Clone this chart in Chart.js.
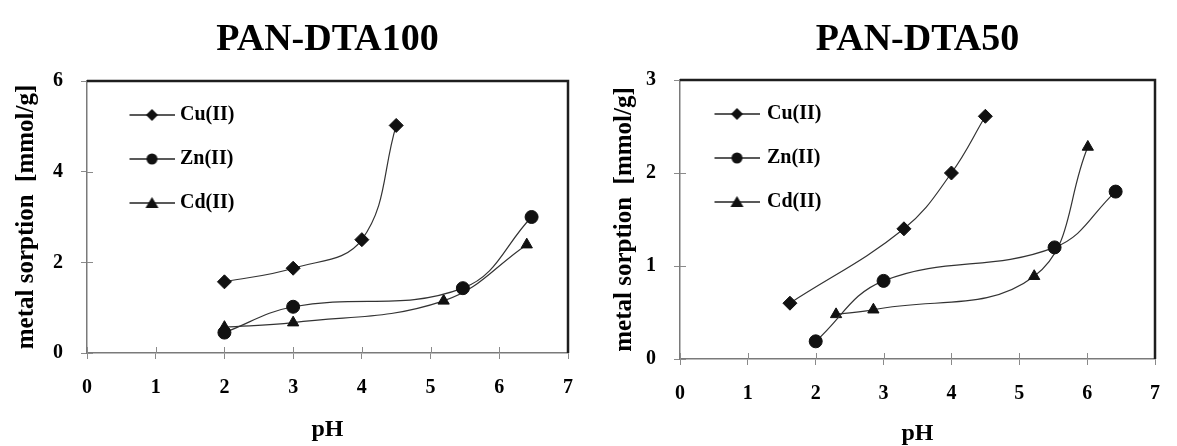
<!DOCTYPE html>
<html>
<head>
<meta charset="utf-8">
<script src="https://cdn.jsdelivr.net/npm/chart.js@4.4.1/dist/chart.umd.min.js"></script>
<style>
  body { margin: 0; background: #fff; }
  #wrap { position: relative; width: 1177px; height: 446px; }
  #left { position: absolute; left: 0; top: 0; }
  #right { position: absolute; left: 590px; top: 0; }
</style>
</head>
<body>
<div id="wrap">
  <canvas id="left" width="590" height="446"></canvas>
  <canvas id="right" width="587" height="446"></canvas>
</div>
<script>
// PAN-DTA100  (pH / metal sorption mmol/g)
const ph100Cu = [2, 3, 4, 4.5];
const sorp100Cu = [1.57, 1.87, 2.5, 5.02];
const ph100Zn = [2, 3, 5.47, 6.47];
const sorp100Zn = [0.45, 1.02, 1.43, 3.0];
const ph100Cd = [2, 3, 5.19, 6.4];
const sorp100Cd = [0.57, 0.67, 1.15, 2.39];

// PAN-DTA50
const ph50Cu = [1.62, 3.3, 4.0, 4.5];
const sorp50Cu = [0.6, 1.4, 2.0, 2.61];
const ph50Zn = [2.0, 3.0, 5.52, 6.42];
const sorp50Zn = [0.19, 0.84, 1.2, 1.8];
const ph50Cd = [2.3, 2.85, 5.22, 6.01];
const sorp50Cd = [0.48, 0.53, 0.89, 2.28];

const metals = ['Cu(II)', 'Zn(II)', 'Cd(II)'];
const markers = ['rectRot', 'circle', 'triangle'];
const xRange = [0, 7];
const yRange100 = [0, 6], yStep100 = 2;
const yRange50 = [0, 3], yStep50 = 1;

Chart.defaults.font.family = "'Liberation Serif', 'Times New Roman', serif";
Chart.defaults.color = '#000';

const pts = (xs, ys) => xs.map((x, i) => ({x: x, y: ys[i]}));

// little line+marker picture for the legend, like the excel one
function legendIcon(style, w, from, to) {
  const c = document.createElement('canvas');
  c.width = w; c.height = 18;
  const g = c.getContext('2d');
  g.strokeStyle = '#222'; g.lineWidth = 1.3;
  g.beginPath(); g.moveTo(from, 9); g.lineTo(to, 9); g.stroke();
  const m = (from + to) / 2;
  g.fillStyle = '#111';
  g.beginPath();
  if (style === 'rectRot') {
    g.moveTo(m, 3); g.lineTo(m + 6, 9); g.lineTo(m, 15); g.lineTo(m - 6, 9);
  } else if (style === 'circle') {
    g.arc(m, 9, 5.5, 0, Math.PI * 2);
  } else {
    g.moveTo(m, 3); g.lineTo(m + 6.5, 14); g.lineTo(m - 6.5, 14);
  }
  g.closePath(); g.fill();
  return c;
}

// legend 'chartArea' gets its top reset to 0, put it back inside the plot
const legendInside = {
  id: 'legendInside',
  afterLayout(chart) {
    const lg = chart.legend, a = chart.chartArea;
    if (lg) {
      lg.top = a.top;
      lg.bottom = a.bottom;
    }
  }
};

// frame on top/right + inner half of the crossing ticks
const framePlugin = {
  id: 'frame',
  afterDraw(chart) {
    const {ctx, chartArea: a, scales} = chart;
    ctx.save();
    ctx.strokeStyle = '#8a8a8a';
    ctx.lineWidth = 1;
    scales.x.ticks.forEach(t => {
      const px = Math.round(scales.x.getPixelForValue(t.value)) + 0.5;
      ctx.beginPath(); ctx.moveTo(px, a.bottom); ctx.lineTo(px, a.bottom - 6); ctx.stroke();
    });
    scales.y.ticks.forEach(t => {
      const py = Math.round(scales.y.getPixelForValue(t.value)) + 0.5;
      ctx.beginPath(); ctx.moveTo(a.left, py); ctx.lineTo(a.left + 6, py); ctx.stroke();
    });
    ctx.strokeStyle = '#1e1e1e';
    ctx.lineWidth = 2.5;
    ctx.beginPath();
    ctx.moveTo(a.left, a.top);
    ctx.lineTo(a.right, a.top);
    ctx.lineTo(a.right, a.bottom);
    ctx.stroke();
    ctx.restore();
  }
};

function makeChart(id, title, series, yRange, yStep, lay) {
  const icons = series.map((s, i) => legendIcon(markers[i], lay.iconW, lay.lineFrom, lay.lineTo));
  const datasets = series.map((s, i) => ({
    label: metals[i],
    data: pts(s[0], s[1]),
    showLine: true,
    tension: 0.4,
    borderColor: '#333',
    borderWidth: 1.2,
    pointStyle: markers[i],
    pointRadius: markers[i] === 'rectRot' ? 7 : 6.5,
    pointBackgroundColor: '#111',
    pointBorderColor: '#111',
    pointBorderWidth: 1
  }));

  return new Chart(document.getElementById(id), {
    type: 'scatter',
    data: {datasets: datasets},
    options: {
      responsive: false,
      animation: false,
      devicePixelRatio: 1,
      events: [],
      layout: {padding: {left: 0, right: lay.padRight, top: 0, bottom: 0}},
      plugins: {
        title: {
          display: true,
          text: title,
          fullSize: false,
          color: '#000',
          font: {size: 38, weight: 'bold'},
          padding: {top: 17, bottom: lay.titleBottom}
        },
        legend: {
          position: 'chartArea',
          align: 'start',
          labels: {
            usePointStyle: true,
            pointStyleWidth: lay.boxW,
            padding: 24,
            font: {size: 20, weight: 'bold'},
            generateLabels: (chart) => chart.data.datasets.map((ds, i) => ({
              text: ds.label,
              pointStyle: icons[i],
              fillStyle: '#000',
              strokeStyle: '#000',
              fontColor: '#000',
              lineWidth: 0,
              hidden: false,
              textAlign: 'left',
              datasetIndex: i
            }))
          }
        },
        tooltip: {enabled: false}
      },
      scales: {
        x: {
          type: 'linear',
          min: xRange[0],
          max: xRange[1],
          afterFit: (s) => { s.height = lay.xAxisH; },
          ticks: {stepSize: 1, padding: 17, font: {size: 20, weight: 'bold'}, color: '#000'},
          grid: {drawOnChartArea: false, drawTicks: true, tickLength: 6, color: '#8a8a8a'},
          border: {color: '#7a7a7a', width: 1.5},
          title: {
            display: true,
            text: 'pH',
            color: '#000',
            font: {size: 24, weight: 'bold', lineHeight: 1},
            padding: {top: 0, bottom: lay.phBottom}
          }
        },
        y: {
          min: yRange[0],
          max: yRange[1],
          afterFit: (s) => { s.width = lay.yAxisW; },
          ticks: {stepSize: yStep, padding: 18, font: {size: 20, weight: 'bold'}, color: '#000'},
          grid: {drawOnChartArea: false, drawTicks: true, tickLength: 6, color: '#8a8a8a'},
          border: {color: '#7a7a7a', width: 1.5},
          title: {
            display: true,
            text: 'metal sorption  [mmol/g]',
            color: '#000',
            font: {size: 25, weight: 'bold'},
            padding: {top: lay.yTitleTop, bottom: 0}
          }
        }
      }
    },
    plugins: [legendInside, framePlugin]
  });
}

makeChart('left', 'PAN-DTA100',
  [[ph100Cu, sorp100Cu], [ph100Zn, sorp100Zn], [ph100Cd, sorp100Cd]],
  yRange100, yStep100,
  {padRight: 14, titleBottom: 18.4, xAxisH: 93, yAxisW: 87, phBottom: 4, yTitleTop: 12,
   boxW: 59, iconW: 68, lineFrom: 23, lineTo: 68});

makeChart('right', 'PAN-DTA50',
  [[ph50Cu, sorp50Cu], [ph50Zn, sorp50Zn], [ph50Cd, sorp50Cd]],
  yRange50, yStep50,
  {padRight: 9, titleBottom: 17.4, xAxisH: 87, yAxisW: 90, phBottom: 0, yTitleTop: 20,
   boxW: 53, iconW: 58, lineFrom: 13, lineTo: 58});
</script>
</body>
</html>
